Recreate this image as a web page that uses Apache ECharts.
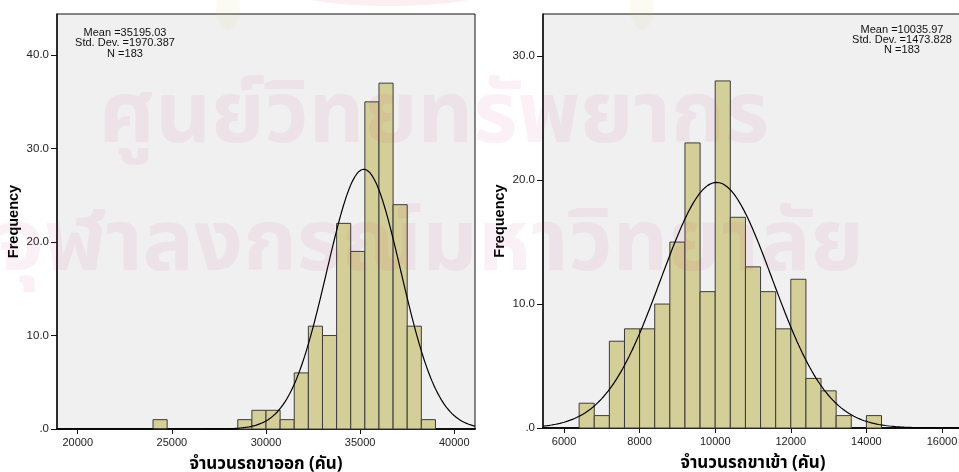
<!DOCTYPE html>
<html>
<head>
<meta charset="utf-8">
<title>Histogram</title>
<script src="https://cdn.jsdelivr.net/npm/echarts@6/dist/echarts.min.js"></script>
<style>
  html, body { margin: 0; padding: 0; background: #ffffff; }
  #chart { width: 959px; height: 472px; }
</style>
</head>
<body>
<div id="chart"></div>
<script>
// Outbound vehicles per day: histogram bins (start of each bin) and counts
const outBinWidth = 750;
const outBinStart = [24000, 28500, 29250, 30000, 30750, 31500, 32250, 33000, 33750, 34500, 35250, 36000, 36750, 37500, 38250];
const outCounts   = [1, 1, 2, 2, 1, 6, 11, 10, 22, 19, 35, 37, 24, 11, 1];
const outStats    = { mean: 35195.03, sd: 1970.387, n: 183 };
const outXTicks   = [20000, 25000, 30000, 35000, 40000];
const outYTicks   = [0, 10, 20, 30, 40];

// Inbound vehicles per day
const inBinWidth = 400;
const inBinStart = [6400, 6800, 7200, 7600, 8000, 8400, 8800, 9200, 9600, 10000, 10400, 10800, 11200, 11600, 12000, 12400, 12800, 13200, 14000];
const inCounts   = [2, 1, 7, 8, 8, 10, 15, 23, 11, 28, 17, 13, 11, 8, 12, 4, 3, 1, 1];
const inStats    = { mean: 10035.97, sd: 1473.828, n: 183 };
const inXTicks   = [6000, 8000, 10000, 12000, 14000, 16000];
const inYTicks   = [0, 10, 20, 30];

const outTitle = 'จำนวนรถขาออก (คัน)';
const inTitle  = 'จำนวนรถขาเข้า (คัน)';
const yTitle   = 'Frequency';

const thaiFont = "'Noto Sans Thai', Tahoma, 'DejaVu Sans', 'Liberation Sans', sans-serif";
const latinFont = "'Liberation Sans', Arial, sans-serif";

function binData(starts, counts, w) {
  return starts.map((s, i) => [s, s + w, counts[i]]);
}

// Expected frequency curve of a normal distribution with the stated mean / SD
function normalCurve(stats, w, lo, hi) {
  const pts = [];
  const steps = 400;
  for (let i = 0; i <= steps; i++) {
    const x = lo + (hi - lo) * i / steps;
    const z = (x - stats.mean) / stats.sd;
    const y = stats.n * w * Math.exp(-0.5 * z * z) / (stats.sd * Math.sqrt(2 * Math.PI));
    pts.push([x, y]);
  }
  return pts;
}

function renderBin(params, api) {
  const p0 = api.coord([api.value(0), api.value(2)]);
  const p1 = api.coord([api.value(1), 0]);
  return {
    type: 'rect',
    shape: { x: p0[0], y: p0[1], width: p1[0] - p0[0], height: p1[1] - p0[1] },
    style: { fill: '#d4cf98', stroke: '#3c3c3c', lineWidth: 1 }
  };
}

const yFmt = v => (v === 0 ? '.0' : v.toFixed(1));

function xAxisCfg(idx, min, max, ticks, name) {
  return {
    type: 'value', gridIndex: idx, min: min, max: max,
    axisLine: { show: true, onZero: false, lineStyle: { color: '#111', width: 2 } },
    axisTick: { show: true, length: 5, lineStyle: { color: '#111' }, customValues: ticks },
    axisLabel: { color: '#222', fontSize: 11, fontFamily: latinFont, margin: 8, customValues: ticks, formatter: v => String(v) },
    splitLine: { show: false },
    name: name, nameLocation: 'middle', nameGap: 28,
    nameTextStyle: { color: '#000', fontSize: 17, fontWeight: 'bold', fontFamily: thaiFont }
  };
}

function yAxisCfg(idx, max, ticks) {
  return {
    type: 'value', gridIndex: idx, min: 0, max: max,
    axisLine: { show: true, lineStyle: { color: '#111', width: 1.5 } },
    axisTick: { show: true, length: 6, lineStyle: { color: '#111' }, customValues: ticks },
    axisLabel: { color: '#222', fontSize: 11.5, fontFamily: latinFont, margin: 8, customValues: ticks, formatter: yFmt },
    splitLine: { show: false },
    name: yTitle, nameLocation: 'middle', nameGap: 36, nameRotate: 90,
    nameTextStyle: { color: '#000', fontSize: 14.5, fontWeight: 'bold', fontFamily: latinFont }
  };
}

const outMin = 18900, outMax = 41100;
const inMin = 5444, inMax = 16556;

function statsText(x, y, stats) {
  return [
    'Mean =' + stats.mean.toFixed(2),
    'Std. Dev. =' + stats.sd.toFixed(3),
    'N =' + stats.n
  ].map((t, i) => ({
    type: 'text', x: x, y: y + i * 10.3, z: 50,
    style: { text: t, fill: '#111', font: '11px ' + latinFont, textAlign: 'center', textVerticalAlign: 'middle' }
  }));
}

const wmFill = 'rgba(200,40,120,0.07)';
const watermark = [
  {
    type: 'ellipse', x: 0, y: 0, z: 60, silent: true,
    shape: { cx: 390, cy: -8, rx: 95, ry: 14 },
    style: { fill: 'rgba(220,60,100,0.08)', shadowBlur: 12, shadowColor: 'rgba(220,60,100,0.08)' }
  },
  {
    type: 'ellipse', x: 0, y: 0, z: 60, silent: true,
    shape: { cx: 228, cy: 8, rx: 12, ry: 22 },
    style: { fill: 'rgba(220,200,120,0.08)', shadowBlur: 8, shadowColor: 'rgba(220,200,120,0.08)' }
  },
  {
    type: 'ellipse', x: 0, y: 0, z: 60, silent: true,
    shape: { cx: 642, cy: 8, rx: 12, ry: 22 },
    style: { fill: 'rgba(220,200,120,0.08)', shadowBlur: 8, shadowColor: 'rgba(220,200,120,0.08)' }
  },
  {
    type: 'text', x: 434, y: 168, z: 60, silent: true,
    style: { text: 'ศูนย์วิทยทรัพยากร', fill: wmFill, font: 'bold 86px ' + thaiFont, textAlign: 'center', textVerticalAlign: 'bottom' }
  },
  {
    type: 'text', x: 430, y: 296, z: 60, silent: true,
    style: { text: 'จุฬาลงกรณ์มหาวิทยาลัย', fill: wmFill, font: 'bold 86px ' + thaiFont, textAlign: 'center', textVerticalAlign: 'bottom' }
  }
];

const chart = echarts.init(document.getElementById('chart'), null, { renderer: 'canvas' });
chart.setOption({
  animation: false,
  backgroundColor: '#ffffff',
  grid: [
    { left: 57, top: 14, width: 418, height: 415, outerBoundsMode: 'none', containLabel: false,
      show: true, backgroundColor: '#f0f0f0', borderColor: '#111', borderWidth: 1 },
    { left: 543, top: 14, width: 420, height: 414, outerBoundsMode: 'none', containLabel: false,
      show: true, backgroundColor: '#f0f0f0', borderColor: '#111', borderWidth: 1 }
  ],
  xAxis: [
    xAxisCfg(0, outMin, outMax, outXTicks, outTitle),
    xAxisCfg(1, inMin, inMax, inXTicks, inTitle)
  ],
  yAxis: [
    yAxisCfg(0, 44.4, outYTicks),
    yAxisCfg(1, 33.4, inYTicks)
  ],
  series: [
    {
      type: 'custom', xAxisIndex: 0, yAxisIndex: 0, renderItem: renderBin,
      encode: { x: [0, 1], y: 2 }, data: binData(outBinStart, outCounts, outBinWidth), z: 2
    },
    {
      type: 'line', xAxisIndex: 0, yAxisIndex: 0, showSymbol: false, symbol: 'none',
      lineStyle: { color: '#000', width: 1.2 }, data: normalCurve(outStats, outBinWidth, outMin, outMax), z: 3
    },
    {
      type: 'custom', xAxisIndex: 1, yAxisIndex: 1, renderItem: renderBin,
      encode: { x: [0, 1], y: 2 }, data: binData(inBinStart, inCounts, inBinWidth), z: 2
    },
    {
      type: 'line', xAxisIndex: 1, yAxisIndex: 1, showSymbol: false, symbol: 'none',
      lineStyle: { color: '#000', width: 1.2 }, data: normalCurve(inStats, inBinWidth, inMin, inMax), z: 3
    }
  ],
  graphic: [].concat(statsText(125, 33, outStats), statsText(902, 29.5, inStats), watermark)
});
</script>
</body>
</html>
